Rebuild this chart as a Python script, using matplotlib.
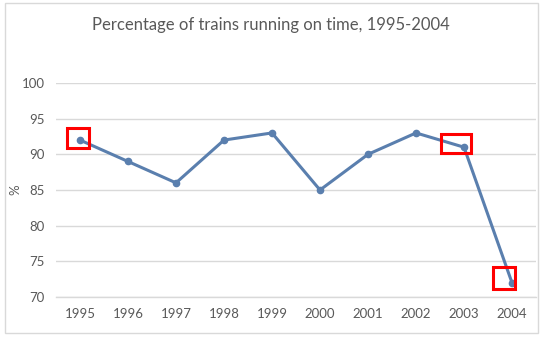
import matplotlib
matplotlib.use("Agg")
import matplotlib.pyplot as plt
from matplotlib.patches import Rectangle

years = ["1995", "1996", "1997", "1998", "1999", "2000", "2001", "2002", "2003", "2004"]
on_time = [92, 89, 86, 92, 93, 85, 90, 93, 91, 72]
y_ticks = [70, 75, 80, 85, 90, 95, 100]
highlight_years = ["1995", "2003", "2004"]

plt.rcParams['font.family'] = ['Lato', 'DejaVu Sans']
txt = '#595959'
grid = '#D9D9D9'
line_c = '#5A7FAE'

fig = plt.figure(figsize=(5.42, 3.37), dpi=100)
fig.patch.set_facecolor('white')
fig.add_artist(Rectangle((5/542, 4/337), 533/542, 330/337, transform=fig.transFigure,
                         fill=False, edgecolor=grid, linewidth=1.0))

ax = fig.add_axes([56/542, 1 - 297/337, 480/542, 214/337])
x = list(range(len(years)))
ax.plot(x, on_time, color=line_c, linewidth=2.2, marker='o', markersize=4.5,
        markerfacecolor=line_c, markeredgecolor=line_c, zorder=3)

ax.set_xlim(-0.5, len(years) - 0.5)
ax.set_ylim(min(y_ticks), max(y_ticks))
ax.set_yticks(y_ticks)
ax.set_xticks(x)
ax.set_xticklabels(years)
ax.yaxis.grid(True, color=grid, linewidth=1.0)
ax.set_axisbelow(True)
for s in ['top', 'right', 'left']:
    ax.spines[s].set_visible(False)
ax.spines['bottom'].set_color(grid)
ax.spines['bottom'].set_linewidth(1.0)
ax.tick_params(axis='both', length=0, labelsize=9.5, colors=txt)
ax.tick_params(axis='y', pad=8)
ax.tick_params(axis='x', pad=8)

fig.text(15/542, 1 - 190/337, '%', rotation=90, ha='center', va='center',
         color=txt, fontsize=9.5)

# red highlight boxes around selected points (offsets in category / value units)
box_offsets = {"1995": (-0.27, -1.1, 0.46, 2.8),
               "2003": (-0.48, -0.8, 0.63, 2.7),
               "2004": (-0.40, -0.9, 0.46, 3.1)}
for yr in highlight_years:
    i = years.index(yr)
    dx, dy, w, h = box_offsets[yr]
    ax.add_patch(Rectangle((i + dx, on_time[i] + dy), w, h, fill=False,
                           edgecolor='#FF0000', linewidth=2.2, zorder=4, clip_on=False))

fig.text(0.5, 1 - 25/337, 'Percentage of trains running on time, 1995-2004',
         ha='center', va='center', fontsize=12, color=txt)

fig.savefig('out.png', dpi=100)
